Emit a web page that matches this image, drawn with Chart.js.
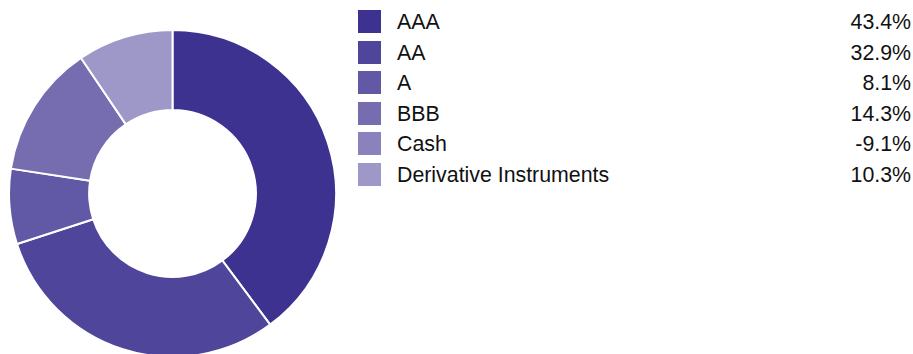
<!DOCTYPE html>
<html>
<head>
<meta charset="utf-8">
<script src="https://cdn.jsdelivr.net/npm/chart.js@4"></script>
<style>
  html, body { margin: 0; padding: 0; background: #fff; overflow: hidden; }
  body { width: 913px; height: 354px; position: relative; font-family: Arial, "Liberation Sans", sans-serif; }
  #chartWrap { position: absolute; left: 8px; top: 29px; width: 329px; height: 329px; }
  #legend { position: absolute; left: 358px; top: 10px; width: 553px; }
  .row { position: relative; height: 30.5px; }
  .sw { position: absolute; left: 0; top: 0; width: 23px; height: 23px; }
  .lbl { position: absolute; left: 39px; top: 1px; font-size: 21.33px; line-height: 22px; color: #111; }
  .val { position: absolute; right: 0; top: 1px; font-size: 21.33px; line-height: 22px; color: #111; }
</style>
</head>
<body>
<div id="chartWrap"><canvas id="donut" width="329" height="329"></canvas></div>
<div id="legend"></div>
<script>
// ratings breakdown (percent of portfolio)
const categories = ['AAA', 'AA', 'A', 'BBB', 'Cash', 'Derivative Instruments'];
const weights = [43.4, 32.9, 8.1, 14.3, -9.1, 10.3];
const colors = ['#3e3291', '#4f459a', '#6259a6', '#756daf', '#8982bc', '#9d98c7'];

// negative weights are not drawn as slices
const sliceValues = weights.map(v => Math.max(v, 0));

const donutCtx = document.getElementById('donut').getContext('2d');

const donutChart = new Chart(donutCtx, {
    type: 'doughnut',
    data: {
        labels: categories,
        datasets: [{
            data: sliceValues,
            backgroundColor: colors,
            borderColor: '#ffffff',
            borderWidth: 2
        }]
    },
    options: {
        responsive: false,
        animation: false,
        cutout: '51%',
        layout: { padding: 0 },
        plugins: {
            legend: { display: false },
            tooltip: { enabled: false }
        }
    }
});

// legend with values on the right
const legend = document.getElementById('legend');
categories.forEach(function(name, i) {
    const row = document.createElement('div');
    row.className = 'row';
    row.innerHTML = '<div class="sw" style="background:' + colors[i] + '"></div>' +
        '<div class="lbl">' + name + '</div>' +
        '<div class="val">' + weights[i].toFixed(1) + '%</div>';
    legend.appendChild(row);
});
</script>
</body>
</html>
